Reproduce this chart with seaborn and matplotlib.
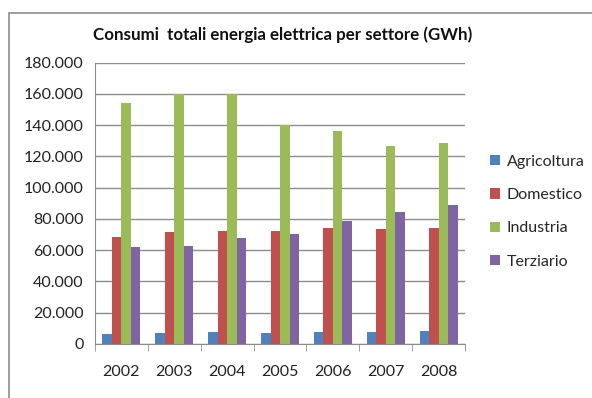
import matplotlib
matplotlib.use("Agg")
import matplotlib.pyplot as plt
import matplotlib.ticker as mticker
import pandas as pd
import seaborn as sns

# Values (GWh)
years = ["2002", "2003", "2004", "2005", "2006", "2007", "2008"]
agricoltura = [6400, 7000, 7700, 7000, 7600, 7500, 8300]
domestico = [68300, 71700, 72300, 72300, 74000, 73400, 74500]
industria = [154000, 160000, 160000, 140000, 136500, 126900, 128600]
terziario = [62100, 62700, 67800, 70600, 78500, 84500, 89000]
sectors = ["Agricoltura", "Domestico", "Industria", "Terziario"]
colors = ["#4F81BD", "#C0504D", "#9BBB59", "#8064A2"]

rows = []
for s, vals in zip(sectors, [agricoltura, domestico, industria, terziario]):
    for y, v in zip(years, vals):
        rows.append({"anno": y, "settore": s, "GWh": v})
df = pd.DataFrame(rows)

sns.set_style("white")
plt.rcParams["font.family"] = ["Lato", "DejaVu Sans"]

fig = plt.figure(figsize=(5.92, 3.98), dpi=100)
ax = fig.add_axes([0.1605, 0.1357, 0.625, 0.7068])

sns.barplot(data=df, x="anno", y="GWh", hue="settore", hue_order=sectors,
            palette=colors, width=0.72, saturation=1, linewidth=0, ax=ax)

ax.set_ylim(0, 180000)
ax.set_xlim(-0.5, len(years) - 0.5)
ax.yaxis.set_major_locator(mticker.MultipleLocator(20000))
ax.yaxis.set_major_formatter(mticker.FuncFormatter(lambda v, p: f"{int(v):,}".replace(",", ".")))
ax.grid(axis="y", color="#8c8c8c", linewidth=1)
ax.set_axisbelow(True)

# category separators on the x axis
ax.set_xticks([i - 0.5 for i in range(len(years) + 1)], minor=True)
ax.tick_params(axis="x", which="major", length=0, labelsize=11.5, pad=15, colors="#222222")
ax.tick_params(axis="x", which="minor", bottom=True, length=5, color="#8c8c8c", direction="out")
ax.tick_params(axis="y", length=5, labelsize=11.5, pad=3, colors="#222222")
ax.tick_params(axis="both", which="both", color="#8c8c8c")

for side in ["top", "right"]:
    ax.spines[side].set_visible(False)
for side in ["left", "bottom"]:
    ax.spines[side].set_color("#8c8c8c")

ax.set_xlabel("")
ax.set_ylabel("")

fig.text(0.478, 0.912, "Consumi  totali energia elettrica per settore (GWh)",
         ha="center", va="center", fontsize=12.2, fontweight="bold", color="#111111")

handles, labels = ax.get_legend_handles_labels()
ax.legend(handles, labels, loc="center left", bbox_to_anchor=(1.03, 0.47), frameon=False,
          fontsize=11.5, handlelength=0.6, handleheight=0.6, handletextpad=0.4,
          labelspacing=1.2)

# outer chart border
fig.patches.append(plt.Rectangle((9 / 592, -0.01), 1.0, 1 - 13 / 398 + 0.01,
                                 transform=fig.transFigure, fill=False,
                                 edgecolor="#8c8c8c", linewidth=1.2))

fig.savefig("out.png", dpi=100)
